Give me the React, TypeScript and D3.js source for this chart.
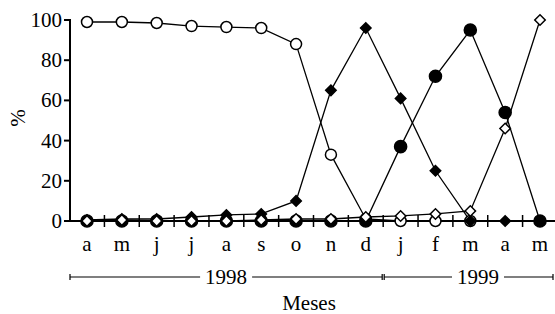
import React, { useEffect, useRef } from 'react'
import * as d3 from 'd3'

const months = ['a', 'm', 'j', 'j', 'a', 's', 'o', 'n', 'd', 'j', 'f', 'm', 'a', 'm']
const yTicks = [0, 20, 40, 60, 80, 100]
const openCircle = [99, 99, 98.5, 97, 96.5, 96, 88, 33, 1, 0, 0, 0]
const filledDiamond = [0.5, 1, 1, 2, 3, 3.5, 10, 65, 96, 61, 25, 0, 0, 0]
const filledCircle = [0, 0, 0, 0, 0, 0, 0, 0, 0, 37, 72, 95, 54, 0]
const openDiamond = [0, 0.5, 0, 0, 0, 0.5, 1, 1, 2, 2.5, 3.5, 5, 46, 100]
const years = [
  { label: '1998', from: -0.5, to: 8.5 },
  { label: '1999', from: 8.5, to: 13.4 },
]

const W = 555
const H = 314
const FONT = "'Liberation Serif', 'DejaVu Serif', serif"

const App = () => {
  const ref = useRef<SVGSVGElement>(null)

  useEffect(() => {
    const svg = d3.select(ref.current)
    svg.selectAll('*').remove()

    const x = d3.scaleLinear().domain([0, months.length - 1]).range([87, 540])
    const y = d3.scaleLinear().domain([0, 100]).range([221, 20])

    const text = (tx: number, ty: number, s: string, anchor = 'middle') =>
      svg.append('text').attr('x', tx).attr('y', ty)
        .attr('text-anchor', anchor)
        .attr('font-family', FONT).attr('font-size', 21)
        .text(s)

    // axes
    svg.append('line').attr('x1', 70).attr('x2', 70).attr('y1', y(100)).attr('y2', y(0))
      .attr('stroke', '#000').attr('stroke-width', 2)
    svg.append('line').attr('x1', 70).attr('x2', W).attr('y1', y(0)).attr('y2', y(0))
      .attr('stroke', '#000').attr('stroke-width', 2)

    yTicks.forEach(t => {
      svg.append('line').attr('x1', 64).attr('x2', 71).attr('y1', y(t)).attr('y2', y(t))
        .attr('stroke', '#000').attr('stroke-width', 2)
      text(62, y(t) + 7, String(t), 'end')
    })

    d3.range(months.length - 1).forEach(i => {
      svg.append('line').attr('x1', x(i + 0.5)).attr('x2', x(i + 0.5))
        .attr('y1', y(0) - 6).attr('y2', y(0) + 6)
        .attr('stroke', '#000').attr('stroke-width', 1.5)
    })

    months.forEach((m, i) => text(x(i), 251, m))

    text(0, 0, '%').attr('x', null).attr('y', null)
      .attr('transform', 'translate(25,118) rotate(-90)')

    // year brackets
    const yy = 277
    years.forEach((yr, k) => {
      const x1 = k === 0 ? 70 : x(yr.from) + 1
      const x2 = k === 0 ? x(yr.to) - 1 : 553
      const cx = k === 0 ? (x1 + x2) / 2 : 478
      const half = 26
      svg.append('line').attr('x1', x1).attr('x2', cx - half).attr('y1', yy).attr('y2', yy)
        .attr('stroke', '#000').attr('stroke-width', 1.2)
      svg.append('line').attr('x1', cx + half).attr('x2', x2).attr('y1', yy).attr('y2', yy)
        .attr('stroke', '#000').attr('stroke-width', 1.2)
      ;[x1, x2].forEach(xx => {
        svg.append('line').attr('x1', xx).attr('x2', xx).attr('y1', yy - 3).attr('y2', yy + 3)
          .attr('stroke', '#000').attr('stroke-width', 1.2)
      })
      text(cx, yy + 7, yr.label)
    })

    text(309, 310, 'Meses')

    const line = d3.line<number>().x((d, i) => x(i)).y(d => y(d))
    const series = [
      { data: openCircle, shape: d3.symbolCircle, size: 95, fill: '#fff', rot: 0 },
      { data: filledDiamond, shape: d3.symbolSquare, size: 55, fill: '#000', rot: 45 },
      { data: filledCircle, shape: d3.symbolCircle, size: 115, fill: '#000', rot: 0 },
      { data: openDiamond, shape: d3.symbolSquare, size: 55, fill: '#fff', rot: 45 },
    ]
    series.forEach(s => {
      svg.append('path').attr('d', line(s.data)).attr('fill', 'none')
        .attr('stroke', '#000').attr('stroke-width', 1.3)
    })
    series.forEach(s => {
      const sym = d3.symbol().type(s.shape).size(s.size)
      svg.selectAll(null).data(s.data).enter().append('path')
        .attr('d', sym)
        .attr('transform', (d, i) => `translate(${x(i)},${y(d)}) rotate(${s.rot})`)
        .attr('fill', s.fill).attr('stroke', '#000').attr('stroke-width', 1.5)
    })
  }, [])

  return <svg ref={ref} width={W} height={H} style={{ position: 'absolute', left: 0, top: 0 }} />
}

export default App
